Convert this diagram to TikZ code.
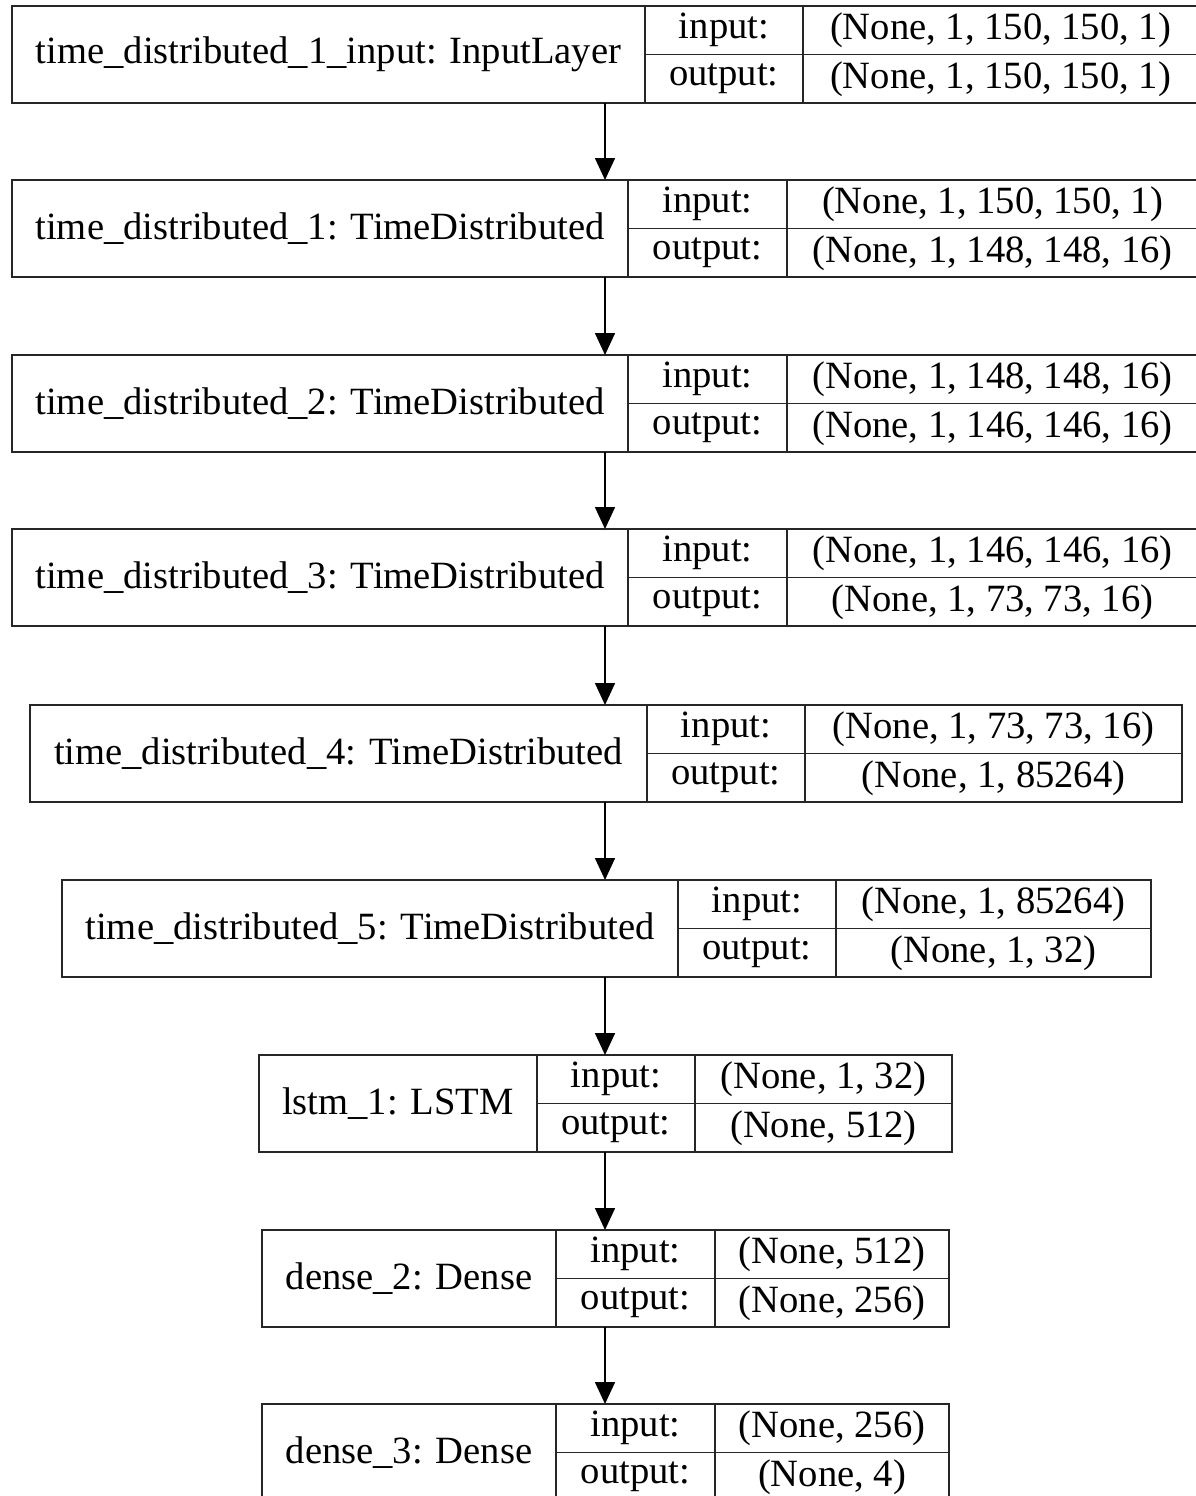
\documentclass[tikz,border=0pt]{standalone}
\usepackage{fontspec}
\setmainfont{Liberation Serif}
\usetikzlibrary{arrows.meta}

% One layer record: name cell, input/output labels and shapes.
% #1 id, #2 top, #3 left, #4 first divider, #5 second divider, #6 right,
% #7 layer name, #8 input shape, #9 output shape
\newcommand\layerbox[9]{%
  \pgfmathsetmacro\lyA{#4-#3}%
  \pgfmathsetmacro\lyB{#5-#4}%
  \pgfmathsetmacro\lyC{#6-#5}%
  \node[cell, minimum width=\lyA pt, minimum height=97pt] (#1) at (#3,#2) {#7};
  \node[cell, minimum width=\lyB pt, minimum height=48.5pt] (#1-il) at (#4,#2) {input:};
  \node[cell, minimum width=\lyB pt, minimum height=48.5pt] (#1-ol) at (#1-il.south west) {output:};
  \node[cell, minimum width=\lyC pt, minimum height=48.5pt] (#1-iv) at (#1-il.north east) {#8};
  \node[cell, minimum width=\lyC pt, minimum height=48.5pt] (#1-ov) at (#1-iv.south west) {#9};
}

\begin{document}
\begin{tikzpicture}[x=1pt, y=-1pt,
  cell/.style={draw=black!85, line width=1.6pt, inner sep=0pt, outer sep=0pt,
    anchor=north west, font=\fontsize{38.6}{46}\selectfont},
  flow/.style={draw=black, line width=1.6pt,
    -{Triangle[length=22pt, width=20pt]}}]
  \useasboundingbox (0,0) rectangle (1196,1496);
  \clip (0,0) rectangle (1196,1496);

  \layerbox{l1}{6}{12}{645}{803}{1198}{time\_distributed\_1\_input: InputLayer}{(None, 1, 150, 150, 1)}{(None, 1, 150, 150, 1)}
  \layerbox{l2}{180}{12}{628}{787}{1198}{time\_distributed\_1: TimeDistributed}{(None, 1, 150, 150, 1)}{(None, 1, 148, 148, 16)}
  \layerbox{l3}{355}{12}{628}{787}{1198}{time\_distributed\_2: TimeDistributed}{(None, 1, 148, 148, 16)}{(None, 1, 146, 146, 16)}
  \layerbox{l4}{529}{12}{628}{787}{1198}{time\_distributed\_3: TimeDistributed}{(None, 1, 146, 146, 16)}{(None, 1, 73, 73, 16)}
  \layerbox{l5}{705}{30}{647}{805}{1182}{time\_distributed\_4: TimeDistributed}{(None, 1, 73, 73, 16)}{(None, 1, 85264)}
  \layerbox{l6}{880}{62}{678}{836}{1151}{time\_distributed\_5: TimeDistributed}{(None, 1, 85264)}{(None, 1, 32)}
  \layerbox{l7}{1055}{259}{537}{695}{952}{lstm\_1: LSTM}{(None, 1, 32)}{(None, 512)}
  \layerbox{l8}{1230}{262}{556}{715}{949}{dense\_2: Dense}{(None, 512)}{(None, 256)}
  \layerbox{l9}{1404}{262}{556}{715}{949}{dense\_3: Dense}{(None, 256)}{(None, 4)}

  \coordinate (axis) at (605,0);
  \foreach \a/\b in {l1/l2, l2/l3, l3/l4, l4/l5, l5/l6, l6/l7, l7/l8, l8/l9}
    \draw[flow] (\a.south -| axis) -- (\b.north -| axis);
\end{tikzpicture}
\end{document}
